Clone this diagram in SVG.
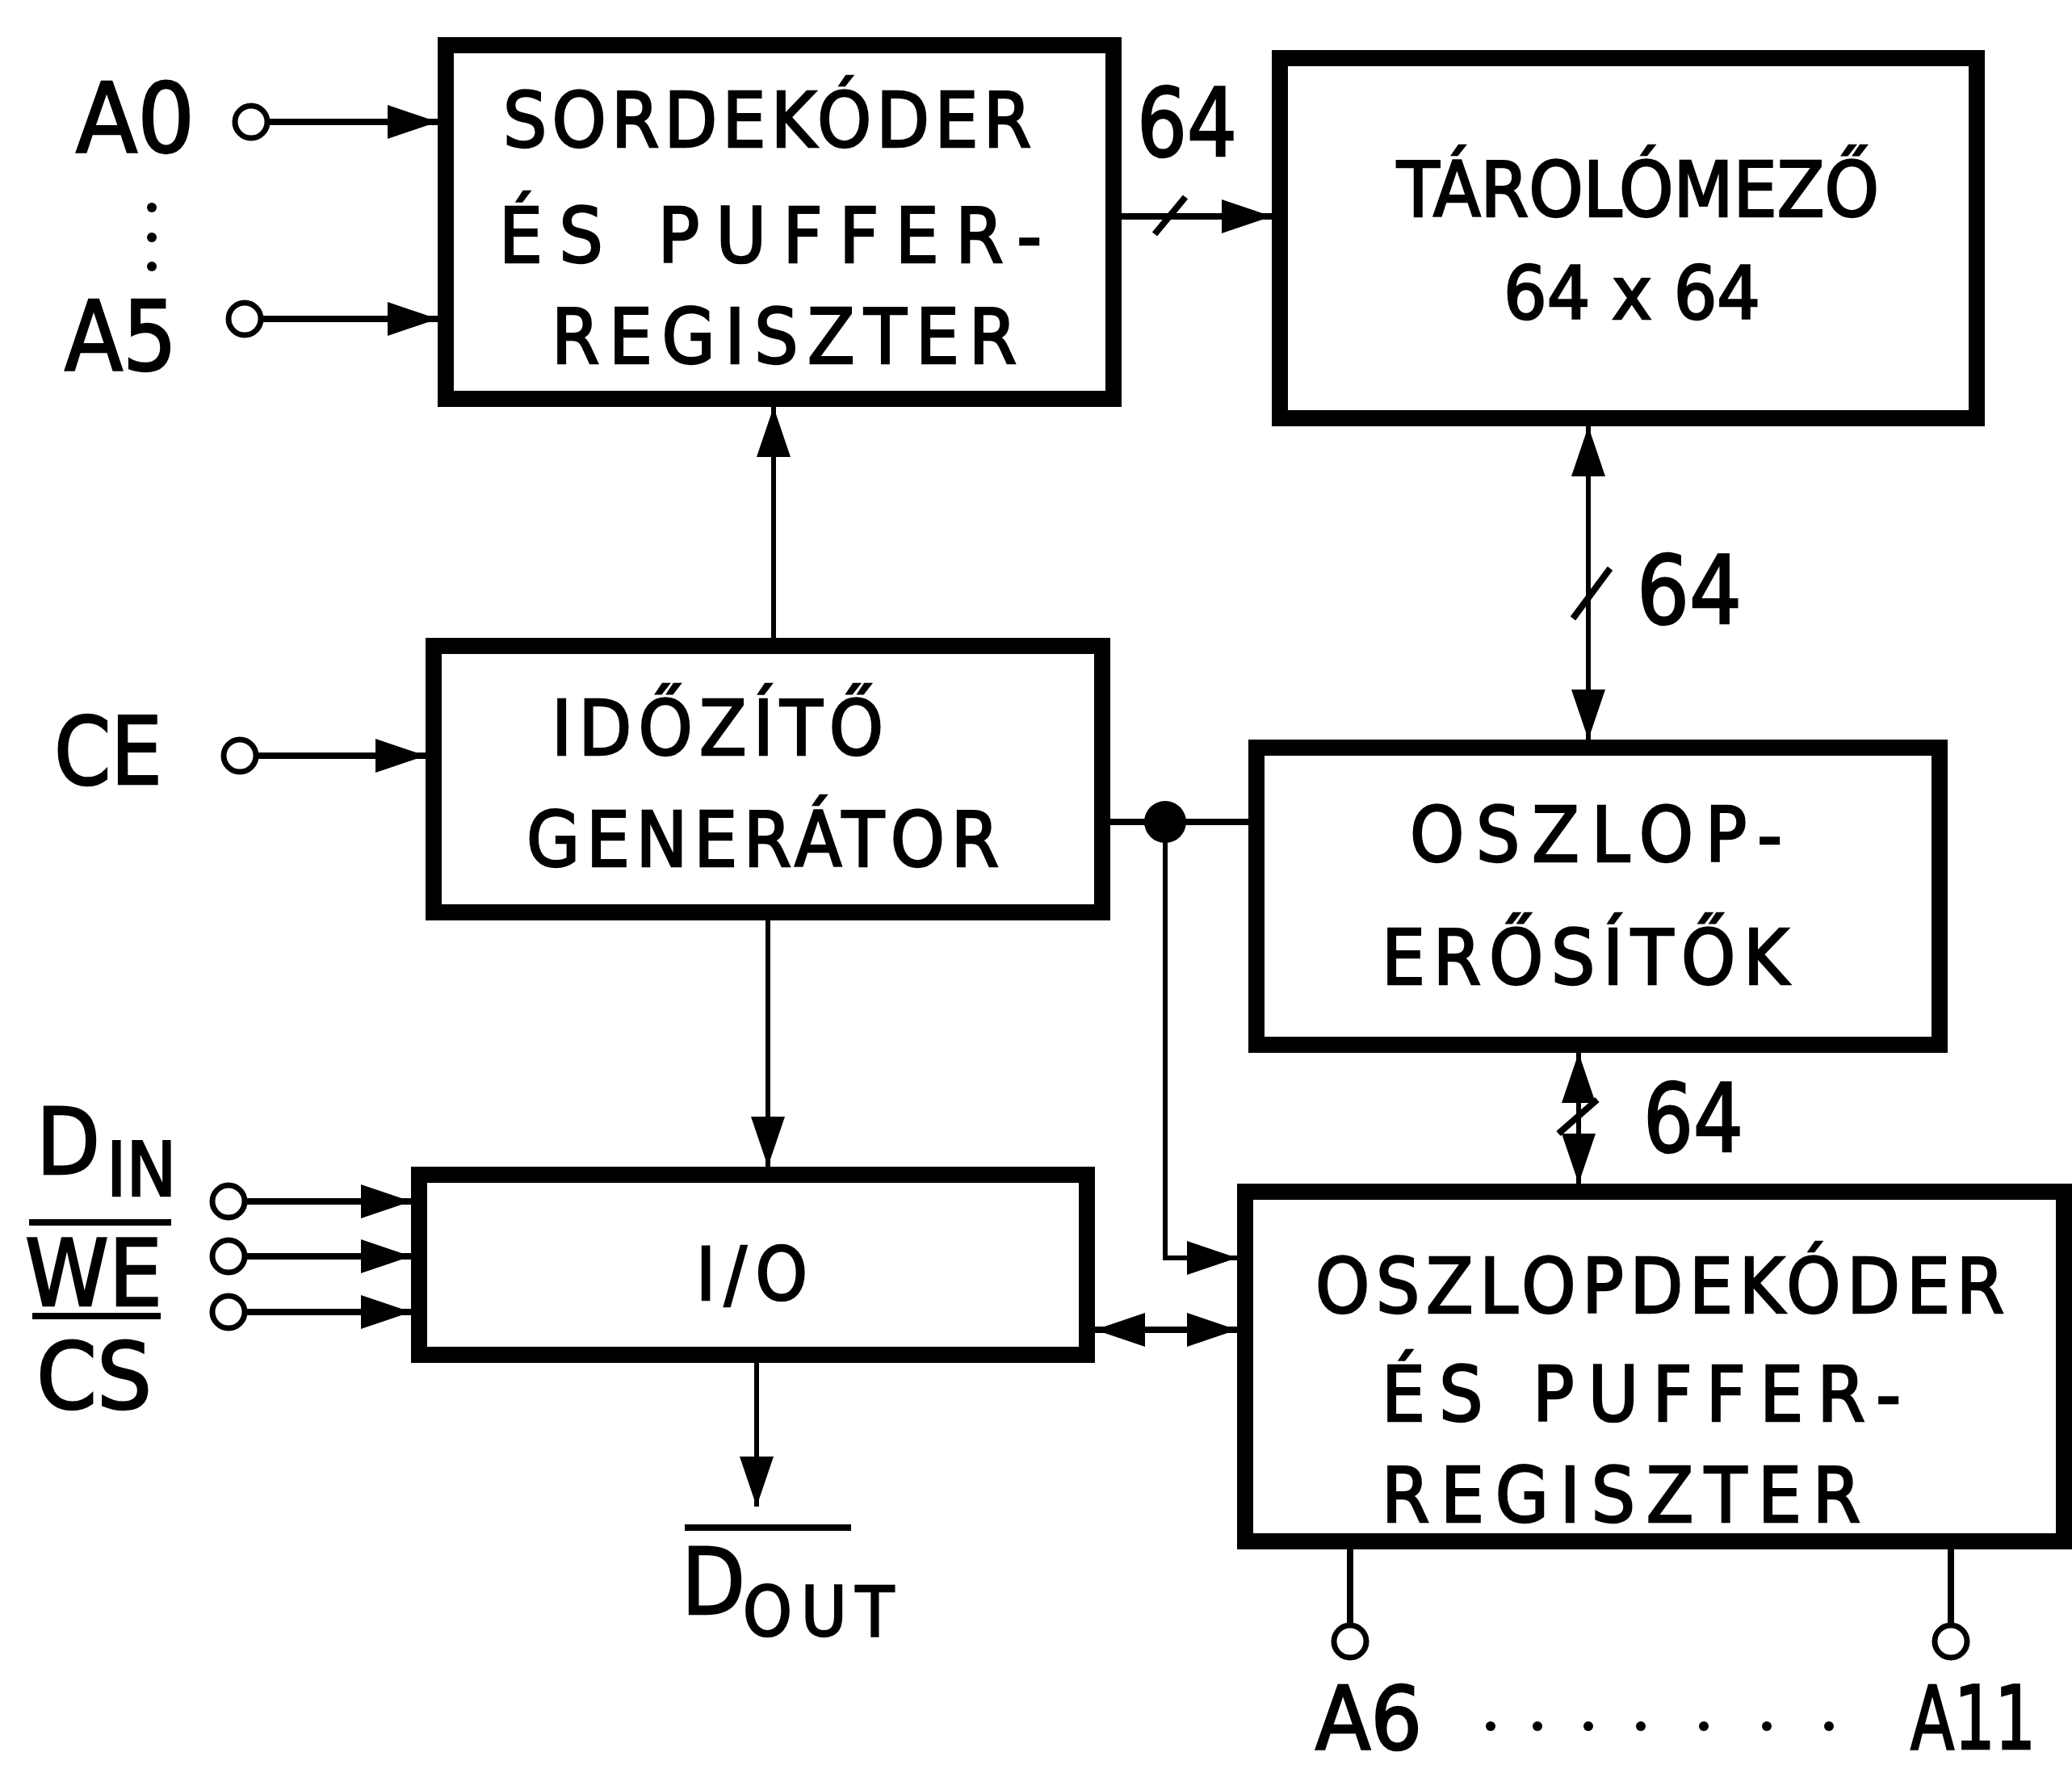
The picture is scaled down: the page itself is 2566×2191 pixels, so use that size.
<svg xmlns="http://www.w3.org/2000/svg" width="2566" height="2191" viewBox="0 0 2566 2191">
<defs>
<marker id="ah" markerUnits="userSpaceOnUse" markerWidth="64" markerHeight="48" refX="62" refY="24" orient="auto-start-reverse"><path d="M0,3 L62,24 L0,45 z" fill="#000"/></marker>
</defs>
<style>
.box{fill:#fff;stroke:#000;stroke-width:20}
.t{font-family:"Liberation Sans Narrow","DejaVu Sans Condensed","Liberation Sans",Arial,sans-serif;fill:#000;stroke:#000;stroke-width:2.5}
.b{font-size:95px}
.lb{font-size:118px}
.w{fill:none;stroke:#000;stroke-width:8}
.v{fill:none;stroke:#000;stroke-width:6}
.pin{fill:#fff;stroke:#000;stroke-width:7}
.ol{stroke:#000;stroke-width:8}
</style>
<rect width="2566" height="2191" fill="#fff"/>

<g id="connectors">
<line class="w" x1="331" y1="151" x2="542" y2="151" marker-end="url(#ah)"/>
<line class="w" x1="323" y1="395" x2="542" y2="395" marker-end="url(#ah)"/>
<line class="w" x1="317" y1="936" x2="527" y2="936" marker-end="url(#ah)"/>
<line class="v" x1="958" y1="790" x2="958" y2="504" marker-end="url(#ah)"/>
<line class="w" x1="1389" y1="268" x2="1575" y2="268" marker-end="url(#ah)"/>
<line class="ol" x1="1430" y1="290" x2="1468" y2="244"/>
<line class="v" x1="1967" y1="528" x2="1967" y2="916" marker-start="url(#ah)" marker-end="url(#ah)"/>
<line class="ol" x1="1948" y1="766" x2="1994" y2="704"/>
<line class="w" x1="1375" y1="1018" x2="1546" y2="1018"/>
<circle cx="1443" cy="1018" r="26" fill="#000"/>
<path class="v" d="M1443,1018 V1558 H1532" marker-end="url(#ah)"/>
<line class="v" x1="1955" y1="1304" x2="1955" y2="1466" marker-start="url(#ah)" marker-end="url(#ah)"/>
<line class="ol" x1="1930" y1="1404" x2="1978" y2="1362"/>
<line class="v" x1="951" y1="1140" x2="951" y2="1445" marker-end="url(#ah)"/>
<line class="w" x1="303" y1="1488" x2="509" y2="1488" marker-end="url(#ah)"/>
<line class="w" x1="303" y1="1556" x2="509" y2="1556" marker-end="url(#ah)"/>
<line class="w" x1="303" y1="1625" x2="509" y2="1625" marker-end="url(#ah)"/>
<line class="w" x1="1356" y1="1647" x2="1532" y2="1647" marker-start="url(#ah)" marker-end="url(#ah)"/>
<line class="v" x1="937" y1="1688" x2="937" y2="1866" marker-end="url(#ah)"/>
<line class="w" x1="1672" y1="1919" x2="1672" y2="2013"/>
<line class="w" x1="2416" y1="1919" x2="2416" y2="2013"/>
</g>

<g id="inputs">
<text class="t" x="94" y="188" font-size="120" textLength="147" lengthAdjust="spacingAndGlyphs">A0</text>
<circle class="pin" cx="311" cy="151" r="20"/>
<circle cx="188" cy="257" r="6" fill="#000"/>
<circle cx="188" cy="294" r="6" fill="#000"/>
<circle cx="188" cy="330" r="6" fill="#000"/>
<text class="t" x="80" y="458" font-size="120" textLength="139" lengthAdjust="spacingAndGlyphs">A5</text>
<circle class="pin" cx="303" cy="395" r="20"/>
<text class="t" x="67" y="971" font-size="116" textLength="134" lengthAdjust="spacingAndGlyphs">CE</text>
<circle class="pin" cx="297" cy="936" r="20"/>
<text class="t" x="45" y="1454" font-size="114">D<tspan font-size="92" x="132" y="1481">IN</tspan></text>
<line class="ol" x1="36" y1="1514" x2="212" y2="1514"/>
<text class="t" x="31" y="1617" font-size="114" textLength="170" lengthAdjust="spacingAndGlyphs">WE</text>
<line class="ol" x1="40" y1="1630" x2="199" y2="1630"/>
<text class="t" x="45" y="1744" font-size="114" textLength="143" lengthAdjust="spacingAndGlyphs">CS</text>
<circle class="pin" cx="283" cy="1488" r="20"/>
<circle class="pin" cx="283" cy="1556" r="20"/>
<circle class="pin" cx="283" cy="1625" r="20"/>
<line class="ol" x1="848" y1="1892" x2="1054" y2="1892"/>
<text class="t" x="844" y="1999" font-size="114">D<tspan font-size="86" x="920" y="2026" textLength="187" lengthAdjust="spacing">OUT</tspan></text>
<circle class="pin" cx="1672" cy="2033" r="20"/>
<circle class="pin" cx="2416" cy="2033" r="20"/>
<text class="t" x="1629" y="2166" font-size="108" textLength="132" lengthAdjust="spacingAndGlyphs">A6</text>
<g fill="#000">
<circle cx="1846" cy="2138" r="6"/><circle cx="1904" cy="2138" r="6"/><circle cx="1967" cy="2138" r="6"/><circle cx="2032" cy="2138" r="6"/><circle cx="2110" cy="2138" r="6"/><circle cx="2188" cy="2138" r="6"/><circle cx="2265" cy="2138" r="6"/>
</g>
<text class="t" x="2366" y="2166" font-size="108" textLength="155" lengthAdjust="spacingAndGlyphs">A11</text>
<text class="t lb" x="1408" y="193" textLength="124" lengthAdjust="spacingAndGlyphs">64</text>
<text class="t lb" x="2027" y="772" textLength="130" lengthAdjust="spacingAndGlyphs">64</text>
<text class="t lb" x="2035" y="1426" textLength="124" lengthAdjust="spacingAndGlyphs">64</text>
</g>

<g id="sordekoder">
<rect class="box" x="552" y="56" width="827" height="438"/>
<text class="t b" x="623" y="182" textLength="654" lengthAdjust="spacing">SORDEKÓDER</text>
<text class="t b" x="618" y="325" textLength="672" lengthAdjust="spacing">ÉS PUFFER-</text>
<text class="t b" x="683" y="450" textLength="576" lengthAdjust="spacing">REGISZTER</text>
</g>

<g id="tarolomezo">
<rect class="box" x="1585" y="72" width="863" height="446"/>
<text class="t b" x="1730" y="268" textLength="597" lengthAdjust="spacingAndGlyphs">TÁROLÓMEZŐ</text>
<text class="t" x="1862" y="395" font-size="91" textLength="318" lengthAdjust="spacingAndGlyphs">64 x 64</text>
</g>

<g id="idozito">
<rect class="box" x="537" y="800" width="828" height="330"/>
<text class="t b" x="683" y="935" textLength="411" lengthAdjust="spacing">IDŐZÍTŐ</text>
<text class="t b" x="652" y="1073" textLength="585" lengthAdjust="spacing">GENERÁTOR</text>
</g>

<g id="oszlop-erositok">
<rect class="box" x="1556" y="926" width="846" height="368"/>
<text class="t b" x="1746" y="1067" textLength="461" lengthAdjust="spacing">OSZLOP-</text>
<text class="t b" x="1711" y="1219" textLength="504" lengthAdjust="spacing">ERŐSÍTŐK</text>
</g>

<g id="io">
<rect class="box" x="519" y="1455" width="827" height="223"/>
<text class="t" x="862" y="1610" font-size="91" textLength="138" lengthAdjust="spacing">I/O</text>
</g>

<g id="oszlopdekoder">
<rect class="box" x="1542" y="1476" width="1014" height="433"/>
<text class="t b" x="1629" y="1626" textLength="853" lengthAdjust="spacing">OSZLOPDEKÓDER</text>
<text class="t b" x="1711" y="1760" textLength="643" lengthAdjust="spacing">ÉS PUFFER-</text>
<text class="t b" x="1711" y="1885" textLength="593" lengthAdjust="spacing">REGISZTER</text>
</g>
</svg>
